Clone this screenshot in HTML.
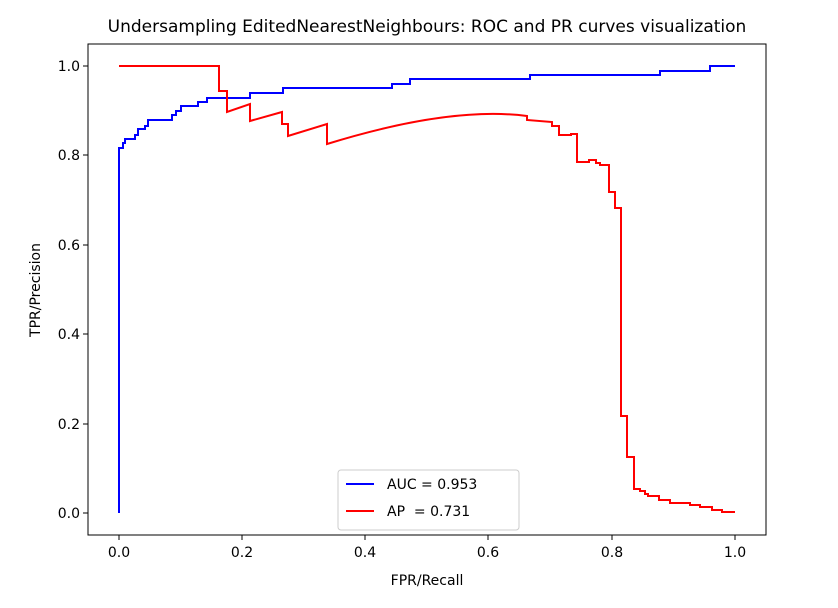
<!DOCTYPE html>
<html><head><style>body{margin:0;background:#fff}</style></head><body>
<svg width="838" height="603" xmlns="http://www.w3.org/2000/svg" font-family="'DejaVu Sans','Liberation Sans',sans-serif">
<rect width="838" height="603" fill="#fff"/>
<text x="427" y="32" font-size="17" text-anchor="middle" fill="#000">Undersampling EditedNearestNeighbours: ROC and PR curves visualization</text>
<g fill="none" stroke-width="2" stroke-linejoin="miter">
<path stroke="#0000ff" d="M119,513 V148 H123 V143 H125 V139 H135 V135 H138 V129 H145 V126 H148 V120 H172 V115 H176 V111 H181 V106 H198 V102 H207 V98 H250 V93 H283 V88 H392 V84 H410 V79 H530 V75 H660 V71 H710 V66 H735"/>
<path stroke="#ff0000" d="M119,66 H219 V91 H227 V112 L250,104 V121 L282,112 V124 H288 V136 L327,124 V144 Q450,106 527,116 V120 L552,122 V126 H559 V135 H571 V134 H577 V162 H589 V160 H596 V163 H600 V165 H609 V192 H615 V208 H621 V416 H627 V457 H634 V489 H640 V491 H645 V494 H648 V496 H659 V500 H670 V503 H690 V505 H700 V507 H712 V510 H722 V512 H735"/>
</g>
<rect x="88" y="44" width="678" height="491" fill="none" stroke="#000" stroke-width="1"/>
<g stroke="#000" stroke-width="1">
<path d="M119,535v5M242,535v5M365,535v5M488,535v5M612,535v5M735,535v5"/>
<path d="M88,513h-5M88,424h-5M88,334h-5M88,245h-5M88,155h-5M88,66h-5"/>
</g>
<g font-size="14" fill="#000" text-anchor="middle">
<text x="119" y="557">0.0</text><text x="242" y="557">0.2</text><text x="365" y="557">0.4</text><text x="488" y="557">0.6</text><text x="612" y="557">0.8</text><text x="735" y="557">1.0</text>
<text x="427" y="585">FPR/Recall</text>
</g>
<g font-size="14" fill="#000" text-anchor="end">
<text x="80" y="518">0.0</text><text x="80" y="429">0.2</text><text x="80" y="339">0.4</text><text x="80" y="250">0.6</text><text x="80" y="160">0.8</text><text x="80" y="71">1.0</text>
</g>
<text transform="translate(40,290) rotate(-90)" font-size="14" text-anchor="middle">TPR/Precision</text>
<rect x="338" y="470" width="181" height="60" rx="3" fill="#fff" stroke="#ccc"/>
<line x1="346" y1="484" x2="374" y2="484" stroke="#0000ff" stroke-width="2"/>
<line x1="346" y1="511" x2="374" y2="511" stroke="#ff0000" stroke-width="2"/>
<text x="387" y="489" font-size="14">AUC = 0.953</text>
<text x="387" y="516" font-size="14" xml:space="preserve">AP  = 0.731</text>
</svg>
</body></html>
